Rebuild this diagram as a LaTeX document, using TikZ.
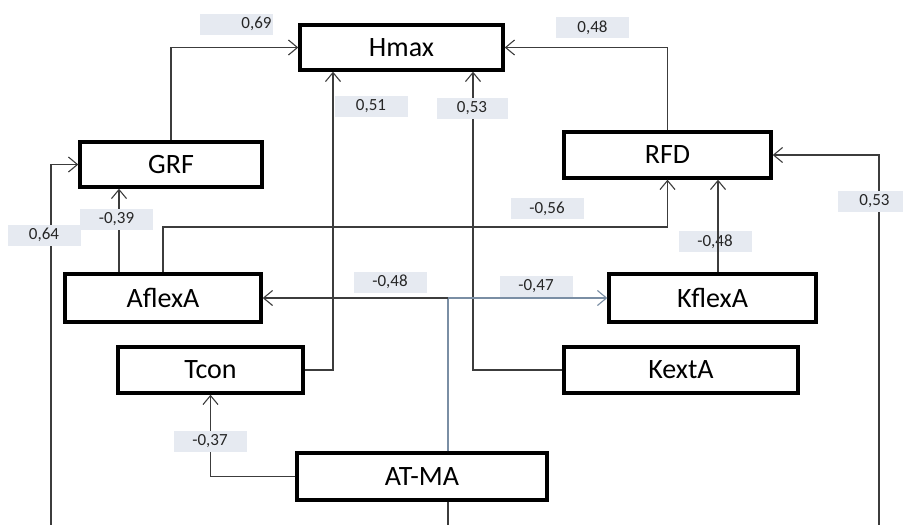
\documentclass[tikz,border=0pt]{standalone}
\usepackage{fontspec}
\setmainfont{Carlito}
\usetikzlibrary{positioning}
\usetikzlibrary{calc}
\usetikzlibrary{arrows.meta}
\definecolor{linegray}{RGB}{60,60,60}
\definecolor{lineblue}{RGB}{122,142,164}
\definecolor{tagfill}{RGB}{230,234,241}

\tikzset{
  var/.style={draw=black, line width=3.4pt, minimum height=46pt, inner sep=0pt,
    font=\fontsize{28}{32}\selectfont},
  coef/.style={fill=tagfill, minimum width=73pt, minimum height=21pt, inner sep=0pt,
    text=black!85, font=\fontsize{17}{20}\selectfont},
  link/.style={draw=linegray, line width=1.1pt},
}

\begin{document}
\begin{tikzpicture}[x=1pt, y=-1pt, >={Straight Barb[length=9pt,width=15pt]}]
    \useasboundingbox (0,0) rectangle (903,525);

    % Variables
    \node[var, minimum width=203pt, minimum height=45pt] (hmax) at (401.5,47.5) {Hmax};
    \node[var, minimum width=182pt, minimum height=45pt] (grf) at (171,164.5) {GRF};
    \node[var, minimum width=207pt] (rfd) at (667.5,155) {RFD};
    \node[var, minimum width=196pt, minimum height=48pt] (aflex) at (163,298) {AflexA};
    \node[var, minimum width=185pt] (tcon) at (210.5,370) {Tcon};
    \node[var, minimum width=207pt, minimum height=48pt] (kflex) at (712.5,298) {KflexA};
    \node[var, minimum width=234pt] (kext) at (681,370) {KextA};
    \node[var, minimum width=250pt, minimum height=47pt] (atma) at (422,476.5) {AT-MA};

    % Free ends at the lower edge
    \coordinate (leftend) at (51,525);
    \coordinate (midend) at (448,525);
    \coordinate (rightend) at (879,525);
    \coordinate (split) at (448,298);

    % Paths
    \draw[link, ->] (grf.north) |- (hmax.west);
    \draw[link, ->] (tcon.east) -| (333,0 |- hmax.south);
    \draw[link, ->] (kext.west) -| (473,0 |- hmax.south);
    \draw[link, ->] (rfd.north) |- (hmax.east);
    \draw[link, ->] (119,0 |- aflex.north) -- (119,0 |- grf.south);
    \draw[link, ->] (aflex.north) |- (rfd.south |- 0,227) -- (rfd.south);
    \draw[link, ->] (leftend) |- (grf.west);
    \draw[link, ->] (rightend) |- (rfd.east);
    \draw[link, lineblue] (448,0 |- atma.north) -- (split);
    \draw[link, ->] (split) -- (aflex.east);
    \draw[link, lineblue, ->] (split) -- (kflex.west);
    \draw[link, ->] (atma.west) -| (tcon.south);
    \draw[link] (448,0 |- atma.south) -- (midend);

    % Coefficients
    \node[coef, text width=71pt, align=right] (c69) at (236,24) {0,69};
    \node[coef] (c51) at (371,106) {0,51};
    \node[coef, minimum width=71pt] (c53a) at (472,108) {0,53};
    \node[coef] (c48a) at (592.5,27.5) {0,48};
    \node[coef] (c39) at (116.5,219.5) {-0,39};
    \node[coef] (c56) at (547,208.5) {-0,56};
    \node[coef] (c64) at (44,235) {0,64};
    \node[coef] (c53b) at (874.5,201) {0,53};
    \node[coef] (c48b) at (715,241.5) {-0,48};
    \node[coef] (c48c) at (390,282) {-0,48};
    \node[coef] (c47) at (536,286) {-0,47};
    \node[coef] (c37) at (210,441.5) {-0,37};

    % Path over its label
    \draw[link, ->] (718,0 |- kflex.north) -- (718,0 |- rfd.south);
\end{tikzpicture}
\end{document}
